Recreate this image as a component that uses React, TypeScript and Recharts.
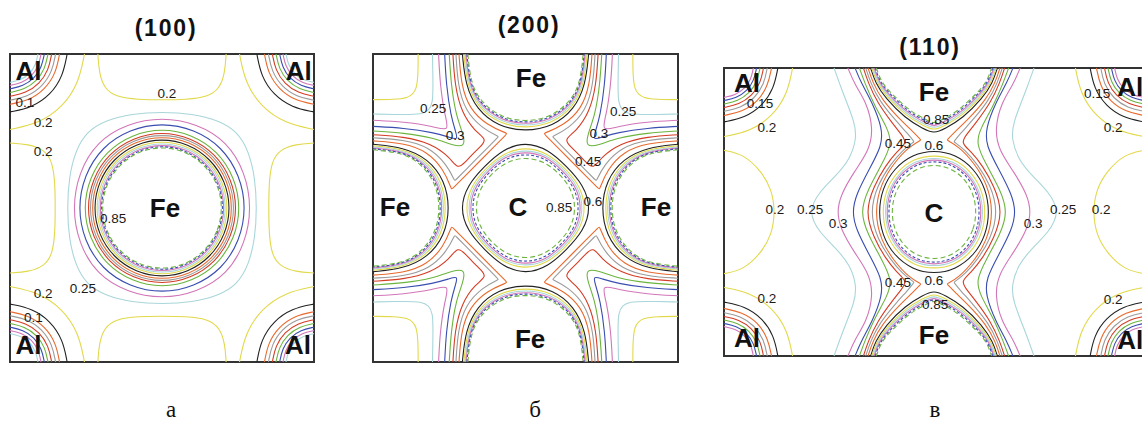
import React from "react";
import { ScatterChart, Scatter, XAxis, YAxis, ReferenceArea, ReferenceDot } from "recharts";

type P = [number, number];
type Contour = { level: number; pts: P[] };
type Note = { text: string; x: number; y: number };

// ---------- (100): Fe in the middle, Al in the corners ----------
// Fe rings: one octant each, offsets from the Fe site (0..45 deg)
const aFeRings: Contour[] = [
  { level: 0.25, pts: [[0.312, 0], [0.306, 0.1], [0.285, 0.185], [0.248, 0.248]] },
  { level: 0.3, pts: [[0.295, 0], [0.274, 0.115], [0.215, 0.215]] },
  { level: 0.35, pts: [[0.277, 0], [0.256, 0.106], [0.198, 0.198]] },
  { level: 0.4, pts: [[0.259, 0], [0.239, 0.099], [0.184, 0.184]] },
  { level: 0.45, pts: [[0.248, 0], [0.229, 0.095], [0.176, 0.176]] },
  { level: 0.5, pts: [[0.241, 0], [0.223, 0.092], [0.171, 0.171]] },
  { level: 0.55, pts: [[0.234, 0], [0.216, 0.09], [0.166, 0.166]] },
  { level: 0.6, pts: [[0.226, 0], [0.209, 0.086], [0.16, 0.16]] },
  { level: 0.65, pts: [[0.219, 0], [0.202, 0.084], [0.155, 0.155]] },
  { level: 0.7, pts: [[0.213, 0], [0.197, 0.082], [0.151, 0.151]] },
  { level: 0.75, pts: [[0.208, 0], [0.192, 0.08], [0.147, 0.147]] },
  { level: 0.8, pts: [[0.204, 0], [0.188, 0.078], [0.144, 0.144]] },
  { level: 0.85, pts: [[0.2, 0], [0.185, 0.077], [0.141, 0.141]] },
];
// Al arcs: one octant each, offsets from the corner
const aAlArcs: Contour[] = [
  { level: 0.2, pts: [[0.245, 0], [0.226, 0.094], [0.173, 0.173]] },
  { level: 0.15, pts: [[0.188, 0], [0.174, 0.072], [0.133, 0.133]] },
  { level: 0.1, pts: [[0.163, 0], [0.151, 0.062], [0.115, 0.115]] },
  { level: 0.05, pts: [[0.15, 0], [0.139, 0.057], [0.106, 0.106]] },
  { level: 0.0, pts: [[0.137, 0], [0.127, 0.052], [0.097, 0.097]] },
  { level: -0.05, pts: [[0.125, 0], [0.115, 0.048], [0.088, 0.088]] },
  { level: -0.1, pts: [[0.113, 0], [0.104, 0.043], [0.08, 0.08]] },
  { level: -0.15, pts: [[0.102, 0], [0.094, 0.039], [0.072, 0.072]] },
  { level: -0.2, pts: [[0.092, 0], [0.085, 0.035], [0.065, 0.065]] },
];
// low pocket at the middle of each edge, half from the edge to the centre line
const aEdgePocket: Contour = { level: 0.2, pts: [[0.289, 0], [0.293, 0.06], [0.31, 0.112], [0.35, 0.14], [0.42, 0.148], [0.5, 0.149]] };
const aAtoms: Note[] = [
  { text: "Al", x: 0.061, y: 0.056 }, { text: "Al", x: 0.95, y: 0.056 },
  { text: "Al", x: 0.061, y: 0.945 }, { text: "Al", x: 0.947, y: 0.945 },
  { text: "Fe", x: 0.51, y: 0.5 },
];
const aNotes: Note[] = [
  { text: "0.1", x: 0.049, y: 0.156 }, { text: "0.2", x: 0.109, y: 0.221 },
  { text: "0.2", x: 0.109, y: 0.315 }, { text: "0.2", x: 0.516, y: 0.127 },
  { text: "0.85", x: 0.339, y: 0.532 }, { text: "0.2", x: 0.109, y: 0.776 },
  { text: "0.25", x: 0.24, y: 0.76 }, { text: "0.1", x: 0.077, y: 0.856 },
];

// ---------- (200): Fe on the edges, C in the middle ----------
// corner curves, upper-left quarter, half from top edge to the diagonal
const bCorner: Contour[] = [
  { level: 0.2, pts: [[0.148, 0], [0.148, 0.07], [0.142, 0.115], [0.13, 0.13]] },
  { level: 0.25, pts: [[0.195, 0], [0.197, 0.1], [0.196, 0.16], [0.183, 0.183]] },
  { level: 0.3, pts: [[0.215, 0], [0.22, 0.1], [0.235, 0.2], [0.252, 0.252]] },
  { level: 0.35, pts: [[0.235, 0], [0.24, 0.1], [0.255, 0.2], [0.272, 0.255], [0.278, 0.278]] },
  { level: 0.4, pts: [[0.25, 0], [0.256, 0.1], [0.272, 0.2], [0.297, 0.262], [0.302, 0.302]] },
  { level: 0.45, pts: [[0.262, 0], [0.268, 0.1], [0.29, 0.19], [0.335, 0.252], [0.375, 0.278], [0.35, 0.303], [0.326, 0.326]] },
  { level: 0.5, pts: [[0.272, 0], [0.278, 0.1], [0.302, 0.185], [0.36, 0.243], [0.412, 0.268], [0.412, 0.268], [0.37, 0.31], [0.34, 0.34]] },
  { level: 0.55, pts: [[0.282, 0], [0.289, 0.1], [0.316, 0.178], [0.375, 0.232], [0.44, 0.258], [0.44, 0.258], [0.395, 0.303], [0.349, 0.349]] },
];
// top Fe, half from the top edge to the bottom of the cup
const bFeCup: Contour[] = [
  { level: 0.6, pts: [[0.293, 0], [0.303, 0.1], [0.34, 0.18], [0.41, 0.235], [0.5, 0.252]] },
  { level: 0.65, pts: [[0.298, 0], [0.308, 0.1], [0.345, 0.175], [0.413, 0.226], [0.5, 0.242]] },
  { level: 0.7, pts: [[0.302, 0], [0.312, 0.1], [0.349, 0.171], [0.416, 0.22], [0.5, 0.236]] },
  { level: 0.75, pts: [[0.305, 0], [0.315, 0.1], [0.352, 0.167], [0.418, 0.215], [0.5, 0.23]] },
  { level: 0.8, pts: [[0.308, 0], [0.318, 0.1], [0.355, 0.164], [0.42, 0.211], [0.5, 0.225]] },
  { level: 0.85, pts: [[0.311, 0], [0.321, 0.1], [0.358, 0.16], [0.422, 0.207], [0.5, 0.22]] },
];
// C rings, one octant each
const bCRings: Contour[] = [
  { level: 0.6, pts: [[0.215, 0], [0.19, 0.075], [0.135, 0.135]] },
  { level: 0.65, pts: [[0.198, 0], [0.18, 0.07], [0.13, 0.13]] },
  { level: 0.7, pts: [[0.19, 0], [0.174, 0.068], [0.126, 0.126]] },
  { level: 0.75, pts: [[0.184, 0], [0.169, 0.066], [0.122, 0.122]] },
  { level: 0.8, pts: [[0.177, 0], [0.163, 0.064], [0.118, 0.118]] },
  { level: 0.85, pts: [[0.165, 0], [0.152, 0.06], [0.112, 0.112]] },
];
const bAtoms: Note[] = [
  { text: "Fe", x: 0.518, y: 0.078 }, { text: "Fe", x: 0.072, y: 0.497 },
  { text: "Fe", x: 0.928, y: 0.497 }, { text: "Fe", x: 0.515, y: 0.925 },
  { text: "C", x: 0.475, y: 0.497 },
];
const bNotes: Note[] = [
  { text: "0.25", x: 0.197, y: 0.175 }, { text: "0.3", x: 0.269, y: 0.263 },
  { text: "0.25", x: 0.82, y: 0.185 }, { text: "0.3", x: 0.741, y: 0.256 },
  { text: "0.45", x: 0.705, y: 0.347 }, { text: "0.85", x: 0.61, y: 0.497 },
  { text: "0.6", x: 0.721, y: 0.477 },
];

// ---------- (110): Fe top/bottom, C in the middle, Al in the corners ----------
const cW = 1.458;
const cMid = 0.729;
// left-hand waves, half from the top edge to mid height
const cWaves: Contour[] = [
  { level: 0.25, pts: [[0.382, 0], [0.41, 0.08], [0.455, 0.19], [0.46, 0.245], [0.438, 0.315], [0.39, 0.373], [0.33, 0.43], [0.292, 0.5]] },
  { level: 0.3, pts: [[0.43, 0], [0.455, 0.06], [0.495, 0.12], [0.518, 0.21], [0.505, 0.285], [0.452, 0.36], [0.405, 0.44], [0.392, 0.5]] },
  { level: 0.35, pts: [[0.455, 0], [0.475, 0.05], [0.515, 0.12], [0.55, 0.21], [0.548, 0.27], [0.505, 0.35], [0.458, 0.44], [0.445, 0.5]] },
  { level: 0.4, pts: [[0.47, 0], [0.488, 0.05], [0.522, 0.13], [0.568, 0.21], [0.584, 0.262], [0.548, 0.335], [0.5, 0.42], [0.472, 0.5]] },
  { level: 0.45, pts: [[0.484, 0], [0.5, 0.05], [0.532, 0.12], [0.583, 0.19], [0.617, 0.232], [0.636, 0.26], [0.6, 0.29], [0.56, 0.34], [0.52, 0.41], [0.49, 0.5]] },
  { level: 0.5, pts: [[0.492, 0], [0.508, 0.05], [0.54, 0.115], [0.598, 0.185], [0.638, 0.228], [0.66, 0.256], [0.66, 0.256], [0.62, 0.285], [0.578, 0.335], [0.533, 0.405], [0.506, 0.5]] },
  { level: 0.55, pts: [[0.5, 0], [0.516, 0.05], [0.548, 0.11], [0.612, 0.18], [0.655, 0.22], [0.684, 0.25], [0.684, 0.25], [0.64, 0.275], [0.59, 0.33], [0.545, 0.4], [0.522, 0.5]] },
];
const cFeCup: Contour[] = [
  { level: 0.6, pts: [[0.509, 0], [0.525, 0.05], [0.56, 0.105], [0.63, 0.175], [0.69, 0.21], [0.729, 0.228]] },
  { level: 0.65, pts: [[0.513, 0], [0.53, 0.05], [0.565, 0.1], [0.633, 0.168], [0.692, 0.2], [0.729, 0.218]] },
  { level: 0.7, pts: [[0.517, 0], [0.534, 0.05], [0.569, 0.097], [0.636, 0.163], [0.694, 0.194], [0.729, 0.211]] },
  { level: 0.75, pts: [[0.521, 0], [0.538, 0.05], [0.573, 0.094], [0.639, 0.158], [0.696, 0.188], [0.729, 0.205]] },
  { level: 0.8, pts: [[0.525, 0], [0.542, 0.05], [0.577, 0.091], [0.642, 0.154], [0.698, 0.183], [0.729, 0.2]] },
  { level: 0.85, pts: [[0.529, 0], [0.546, 0.05], [0.581, 0.088], [0.645, 0.15], [0.7, 0.178], [0.729, 0.195]] },
];
// C rings, one quarter each (dx, dy)
const cCRings: Contour[] = [
  { level: 0.6, pts: [[0.193, 0], [0.18, 0.08], [0.14, 0.15], [0.075, 0.2], [0, 0.215]] },
  { level: 0.65, pts: [[0.18, 0], [0.168, 0.075], [0.13, 0.14], [0.07, 0.186], [0, 0.198]] },
  { level: 0.7, pts: [[0.172, 0], [0.16, 0.072], [0.124, 0.134], [0.066, 0.178], [0, 0.19]] },
  { level: 0.75, pts: [[0.166, 0], [0.155, 0.07], [0.12, 0.13], [0.064, 0.172], [0, 0.184]] },
  { level: 0.8, pts: [[0.16, 0], [0.149, 0.067], [0.116, 0.125], [0.062, 0.166], [0, 0.178]] },
  { level: 0.85, pts: [[0.148, 0], [0.138, 0.062], [0.107, 0.116], [0.057, 0.154], [0, 0.165]] },
];
const cAlArcs: Contour[] = [
  { level: 0.2, pts: [[0.238, 0], [0.22, 0.091], [0.168, 0.168]] },
  { level: 0.15, pts: [[0.187, 0], [0.173, 0.072], [0.132, 0.132]] },
  { level: 0.1, pts: [[0.165, 0], [0.152, 0.063], [0.117, 0.117]] },
  { level: 0.05, pts: [[0.15, 0], [0.139, 0.057], [0.106, 0.106]] },
  { level: 0.0, pts: [[0.137, 0], [0.127, 0.052], [0.097, 0.097]] },
  { level: -0.05, pts: [[0.125, 0], [0.115, 0.048], [0.088, 0.088]] },
  { level: -0.1, pts: [[0.113, 0], [0.104, 0.043], [0.08, 0.08]] },
  { level: -0.15, pts: [[0.102, 0], [0.094, 0.039], [0.072, 0.072]] },
];
const cPocket: Contour = { level: 0.2, pts: [[0, 0.286], [0.07, 0.3], [0.13, 0.36], [0.165, 0.42], [0.178, 0.5]] };
const cAtoms: Note[] = [
  { text: "Al", x: 0.08, y: 0.052 }, { text: "Al", x: 1.41, y: 0.066 },
  { text: "Al", x: 0.08, y: 0.938 }, { text: "Al", x: 1.41, y: 0.944 },
  { text: "Fe", x: 0.729, y: 0.083 }, { text: "Fe", x: 0.729, y: 0.927 },
  { text: "C", x: 0.729, y: 0.503 },
];
const cNotes: Note[] = [
  { text: "0.15", x: 0.125, y: 0.122 }, { text: "0.2", x: 0.149, y: 0.205 },
  { text: "0.2", x: 0.177, y: 0.49 }, { text: "0.25", x: 0.299, y: 0.49 },
  { text: "0.3", x: 0.396, y: 0.538 }, { text: "0.45", x: 0.604, y: 0.26 },
  { text: "0.6", x: 0.729, y: 0.267 }, { text: "0.85", x: 0.736, y: 0.177 },
  { text: "0.45", x: 0.604, y: 0.743 }, { text: "0.6", x: 0.729, y: 0.736 },
  { text: "0.85", x: 0.733, y: 0.819 }, { text: "0.2", x: 0.149, y: 0.799 },
  { text: "0.15", x: 1.295, y: 0.087 }, { text: "0.2", x: 1.351, y: 0.205 },
  { text: "0.25", x: 1.177, y: 0.49 }, { text: "0.2", x: 1.309, y: 0.49 },
  { text: "0.3", x: 1.073, y: 0.538 }, { text: "0.2", x: 1.351, y: 0.802 },
];

const titles = ["(100)", "(200)", "(110)"];
const letters = ["а", "б", "в"];

// contour colours repeat every 0.45, starting with black at 0.15
const CYCLE = ["#222222", "#e2d94c", "#a9d6da", "#d276b9", "#3a4db0", "#6cb43e", "#d43c24", "#9b9b9b", "#e86a2e"];
const colorOf = (lv: number) => CYCLE[((Math.round((lv - 0.15) / 0.05) % 9) + 9) % 9];
const dashOf = (lv: number) => (lv >= 0.84 ? "5 3" : lv >= 0.79 ? "3 2" : undefined);

const SANS = "'Liberation Sans', Arial, sans-serif";

// symmetry helpers
const octToQuarter = (o: P[]): P[] => [...o, ...o.slice(0, -1).reverse().map(([a, b]) => [b, a] as P)];
const quarterToLoop = (q: P[]): P[] => [
  ...q,
  ...q.slice(0, -1).reverse().map(([a, b]) => [-a, b] as P),
  ...q.slice(1).map(([a, b]) => [-a, -b] as P),
  ...q.slice(1, -1).reverse().map(([a, b]) => [a, -b] as P),
];
const shift = (pts: P[], cx: number, cy: number, sx = 1, sy = 1): P[] => pts.map(([a, b]) => [cx + sx * a, cy + sy * b]);
const mirrorX = (h: P[], cx: number): P[] => [...h, ...h.slice(0, -1).reverse().map(([x, y]) => [2 * cx - x, y] as P)];
const mirrorY = (h: P[], cy: number): P[] => [...h, ...h.slice(0, -1).reverse().map(([x, y]) => [x, 2 * cy - y] as P)];
const mirrorDiag = (h: P[]): P[] => [...h, ...h.slice(0, -1).reverse().map(([u, v]) => [v, u] as P)];

type Line = { level: number; pts: P[]; closed: boolean };

function buildA(): Line[] {
  const out: Line[] = [];
  const corners: [number, number, number, number][] = [[0, 0, 1, 1], [1, 0, -1, 1], [0, 1, 1, -1], [1, 1, -1, -1]];
  aAlArcs.forEach((c) => corners.forEach(([cx, cy, sx, sy]) =>
    out.push({ level: c.level, closed: false, pts: shift(octToQuarter(c.pts), cx, cy, sx, sy) })));
  const cup = mirrorX(aEdgePocket.pts, 0.5);
  [(u: number, v: number): P => [u, v], (u: number, v: number): P => [u, 1 - v],
   (u: number, v: number): P => [v, u], (u: number, v: number): P => [1 - v, u]].forEach((f) =>
    out.push({ level: aEdgePocket.level, closed: false, pts: cup.map(([u, v]) => f(u, v)) }));
  aFeRings.forEach((c) => out.push({ level: c.level, closed: true, pts: shift(quarterToLoop(octToQuarter(c.pts)), 0.5, 0.5) }));
  return out;
}

function buildB(): Line[] {
  const out: Line[] = [];
  const quads = [(u: number, v: number): P => [u, v], (u: number, v: number): P => [1 - u, v],
    (u: number, v: number): P => [u, 1 - v], (u: number, v: number): P => [1 - u, 1 - v]];
  bCorner.forEach((c) => {
    const full = mirrorDiag(c.pts);
    quads.forEach((f) => out.push({ level: c.level, closed: false, pts: full.map(([u, v]) => f(u, v)) }));
  });
  const sides = [(u: number, v: number): P => [u, v], (u: number, v: number): P => [u, 1 - v],
    (u: number, v: number): P => [v, u], (u: number, v: number): P => [1 - v, u]];
  bFeCup.forEach((c) => {
    const full = mirrorX(c.pts, 0.5);
    sides.forEach((f) => out.push({ level: c.level, closed: false, pts: full.map(([u, v]) => f(u, v)) }));
  });
  bCRings.forEach((c) => out.push({ level: c.level, closed: true, pts: shift(quarterToLoop(octToQuarter(c.pts)), 0.5, 0.5) }));
  return out;
}

function buildC(): Line[] {
  const out: Line[] = [];
  const corners: [number, number, number, number][] = [[0, 0, 1, 1], [cW, 0, -1, 1], [0, 1, 1, -1], [cW, 1, -1, -1]];
  cAlArcs.forEach((c) => corners.forEach(([cx, cy, sx, sy]) =>
    out.push({ level: c.level, closed: false, pts: shift(octToQuarter(c.pts), cx, cy, sx, sy) })));
  const pocket = mirrorY(cPocket.pts, 0.5);
  out.push({ level: cPocket.level, closed: false, pts: pocket });
  out.push({ level: cPocket.level, closed: false, pts: pocket.map(([x, y]) => [cW - x, y] as P) });
  cWaves.forEach((c) => {
    const full = mirrorY(c.pts, 0.5);
    out.push({ level: c.level, closed: false, pts: full });
    out.push({ level: c.level, closed: false, pts: full.map(([x, y]) => [cW - x, y] as P) });
  });
  cFeCup.forEach((c) => {
    const full = mirrorX(c.pts, cMid);
    out.push({ level: c.level, closed: false, pts: full });
    out.push({ level: c.level, closed: false, pts: full.map(([x, y]) => [x, 1 - y] as P) });
  });
  cCRings.forEach((c) => out.push({ level: c.level, closed: true, pts: shift(quarterToLoop(c.pts), cMid, 0.5) }));
  return out;
}

const NoDot = () => null;

function Panel({ lines, atoms, notes, xMax, left, top, w, h }: {
  lines: Line[]; atoms: Note[]; notes: Note[]; xMax: number; left: number; top: number; w: number; h: number;
}) {
  return (
    <div style={{ position: "absolute", left: left - 1, top: top - 1 }}>
      <ScatterChart width={w + 2} height={h + 2} margin={{ top: 1, right: 1, bottom: 1, left: 1 }}>
        <XAxis type="number" dataKey="x" domain={[0, xMax]} hide allowDataOverflow />
        <YAxis type="number" dataKey="y" domain={[0, 1]} reversed hide allowDataOverflow />
        {lines.map((l, i) => (
          <Scatter
            key={i}
            data={l.pts.map(([x, y]) => ({ x, y }))}
            line={{ stroke: colorOf(l.level), strokeWidth: 1.1, strokeDasharray: dashOf(l.level) }}
            lineJointType={l.closed ? "basisClosed" : "basis"}
            shape={NoDot}
            isAnimationActive={false}
          />
        ))}
        {notes.map((n, i) => (
          <ReferenceDot key={"n" + i} x={n.x} y={n.y} r={0} fill="none" stroke="none"
            label={{ value: n.text, position: "center", fill: "#1a1a1a", fontSize: 13.5, fontFamily: SANS }} />
        ))}
        {atoms.map((n, i) => (
          <ReferenceDot key={"a" + i} x={n.x} y={n.y} r={0} fill="none" stroke="none"
            label={{ value: n.text, position: "center", fill: "#111", fontSize: 26, fontWeight: 700, fontFamily: SANS }} />
        ))}
        <ReferenceArea x1={0} x2={xMax} y1={0} y2={1} fill="none" stroke="#333" strokeWidth={2} />
      </ScatterChart>
    </div>
  );
}

const titleStyle = (x: number, y: number): React.CSSProperties => ({
  position: "absolute", left: x, top: y, transform: "translate(-50%, -50%)",
  fontFamily: SANS, fontWeight: 700, fontSize: 23, letterSpacing: 1.8, color: "#111", whiteSpace: "nowrap",
});
const letterStyle = (x: number, y: number): React.CSSProperties => ({
  position: "absolute", left: x, top: y, transform: "translate(-50%, -50%)",
  fontFamily: "'Liberation Serif', 'Times New Roman', serif", fontSize: 23, color: "#111",
});

export default function App() {
  return (
    <div style={{ position: "absolute", left: 0, top: 0, width: 1142, height: 426, overflow: "hidden", background: "#fff" }}>
      <Panel lines={buildA()} atoms={aAtoms} notes={aNotes} xMax={1} left={10} top={54} w={304} h={308} />
      <Panel lines={buildB()} atoms={bAtoms} notes={bNotes} xMax={1} left={373} top={54} w={305} h={308} />
      <Panel lines={buildC()} atoms={cAtoms} notes={cNotes} xMax={cW} left={724} top={68} w={420} h={288} />
      <div style={titleStyle(166, 28)}>{titles[0]}</div>
      <div style={titleStyle(529, 25)}>{titles[1]}</div>
      <div style={titleStyle(930, 47)}>{titles[2]}</div>
      <div style={letterStyle(171, 410)}>{letters[0]}</div>
      <div style={letterStyle(535, 410)}>{letters[1]}</div>
      <div style={letterStyle(935, 410)}>{letters[2]}</div>
    </div>
  );
}
